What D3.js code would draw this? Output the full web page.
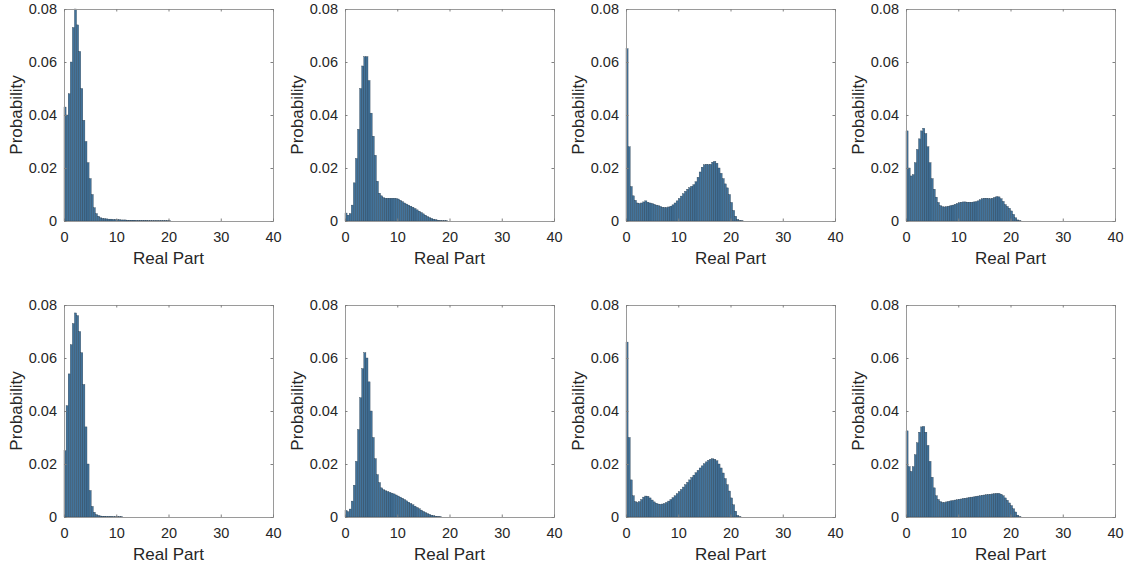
<!DOCTYPE html>
<html>
<head>
<meta charset="utf-8">
<script src="https://cdn.jsdelivr.net/npm/d3@7"></script>
<style>
body { margin: 0; background: #fff; }
text { font-family: "Liberation Sans", Arial, Helvetica, sans-serif; fill: #262626; }
</style>
</head>
<body>
<svg id="fig" width="1132" height="572"></svg>
<script>
// histogram bins start at 0, each binWidth wide
var binWidth = 0.4
var xTicks = [0, 10, 20, 30, 40]
var yTicks = [0, 0.02, 0.04, 0.06, 0.08]
var xTickText = ['0', '10', '20', '30', '40']
var yTickText = ['0', '0.02', '0.04', '0.06', '0.08']
var xLabel = 'Real Part'
var yLabel = 'Probability'

var top1 = [0.043, 0.040, 0.048, 0.060, 0.073, 0.080, 0.074, 0.064, 0.050, 0.038, 0.030, 0.022, 0.016, 0.010, 0.005,
  0.0028, 0.0018, 0.0012, 0.0010, 0.0009, 0.0008, 0.0007, 0.0007, 0.0006, 0.0006, 0.0005, 0.0005, 0.0004, 0.0004,
  0.0004, 0.0003, 0.0003, 0.0003, 0.0003, 0.0002, 0.0002, 0.0002, 0.0002, 0.0002, 0.0002, 0.0001, 0.0001, 0.0001,
  0.0001, 0.0001, 0.0001, 0.0001, 0.0001, 0.0001, 0.0001, 0.0001]
var top2 = [0.003, 0.0022, 0.0028, 0.006, 0.0144, 0.0236, 0.0346, 0.050, 0.0585, 0.062, 0.062, 0.053, 0.0407, 0.032,
  0.0248, 0.015, 0.0105, 0.0095, 0.0088, 0.0086, 0.0086, 0.0086, 0.0086, 0.0086, 0.0085, 0.0083, 0.0078, 0.0073,
  0.0068, 0.0064, 0.0060, 0.0056, 0.0052, 0.0047, 0.0042, 0.0037, 0.0032, 0.0027, 0.0022, 0.0017, 0.0013, 0.0010,
  0.0007, 0.0005, 0.0003, 0.0002, 0.0001, 0.0001, 0.0001]
var top3 = [0.065, 0.028, 0.013, 0.0095, 0.0078, 0.0068, 0.0066, 0.0068, 0.0072, 0.0076, 0.0071, 0.0068, 0.0066,
  0.0063, 0.0060, 0.0058, 0.0055, 0.0052, 0.0051, 0.0051, 0.0053, 0.0056, 0.0061, 0.0068, 0.0076, 0.0085, 0.0094,
  0.0103, 0.0112, 0.0120, 0.0126, 0.0131, 0.0137, 0.0148, 0.0165, 0.0185, 0.0203, 0.0212, 0.0214, 0.0213, 0.0214,
  0.0222, 0.0225, 0.0218, 0.0200, 0.0180, 0.0160, 0.0140, 0.0125, 0.0100, 0.0070, 0.0040, 0.0018, 0.0006, 0.0002,
  0.0001]
var top4 = [0.034, 0.020, 0.017, 0.0175, 0.022, 0.027, 0.031, 0.034, 0.035, 0.033, 0.028, 0.022, 0.016, 0.012, 0.009,
  0.007, 0.0058, 0.0054, 0.0053, 0.0054, 0.0056, 0.0058, 0.0060, 0.0063, 0.0066, 0.0069, 0.0071, 0.0072, 0.0072,
  0.0071, 0.0071, 0.0071, 0.0072, 0.0073, 0.0076, 0.0080, 0.0084, 0.0086, 0.0086, 0.0085, 0.0084, 0.0086, 0.0089,
  0.0092, 0.0091, 0.0084, 0.0074, 0.0062, 0.0055, 0.0048, 0.0038, 0.0025, 0.0012, 0.0004, 0.0001]
var bot1 = [0.025, 0.042, 0.054, 0.065, 0.073, 0.077, 0.076, 0.070, 0.062, 0.050, 0.034, 0.020, 0.010, 0.004, 0.0018,
  0.0009, 0.0006, 0.0004, 0.0003, 0.0003, 0.0002, 0.0002, 0.0002, 0.0001, 0.0001, 0.0001, 0.0001, 0.0001]
var bot2 = [0.0025, 0.002, 0.003, 0.006, 0.012, 0.021, 0.033, 0.045, 0.056, 0.062, 0.060, 0.051, 0.040, 0.030, 0.022,
  0.016, 0.013, 0.011, 0.0103, 0.0099, 0.0096, 0.0093, 0.0090, 0.0087, 0.0083, 0.0079, 0.0075, 0.0071, 0.0066,
  0.0061, 0.0056, 0.0051, 0.0046, 0.0041, 0.0036, 0.0031, 0.0026, 0.0021, 0.0017, 0.0013, 0.0010, 0.0007, 0.0005,
  0.0003, 0.0002, 0.0001]
var bot3 = [0.066, 0.030, 0.014, 0.008, 0.0058, 0.0055, 0.0058, 0.0066, 0.0075, 0.0079, 0.0078, 0.0072, 0.0064,
  0.0057, 0.0052, 0.0049, 0.0048, 0.0049, 0.0051, 0.0055, 0.0060, 0.0066, 0.0073, 0.0080, 0.0088, 0.0096, 0.0104,
  0.0113, 0.0122, 0.0131, 0.0140, 0.0149, 0.0158, 0.0167, 0.0176, 0.0185, 0.0193, 0.0201, 0.0208, 0.0214, 0.0218,
  0.0220, 0.0218, 0.0212, 0.0200, 0.0185, 0.0166, 0.0145, 0.0122, 0.0098, 0.0072, 0.0046, 0.0022, 0.0006, 0.0001]
var bot4 = [0.0325, 0.019, 0.0172, 0.019, 0.0235, 0.028, 0.032, 0.034, 0.0342, 0.032, 0.027, 0.021, 0.015, 0.011,
  0.008, 0.0066, 0.0058, 0.0055, 0.0055, 0.0057, 0.0059, 0.0061, 0.0062, 0.0064, 0.0065, 0.0067, 0.0068, 0.0070,
  0.0071, 0.0072, 0.0074, 0.0075, 0.0076, 0.0078, 0.0079, 0.0080, 0.0082, 0.0083, 0.0084, 0.0085, 0.0086, 0.0087,
  0.0088, 0.0089, 0.0089, 0.0086, 0.0080, 0.0072, 0.0063, 0.0053, 0.0043, 0.0031, 0.0019, 0.0007, 0.0001]

var panels = [top1, top2, top3, top4, bot1, bot2, bot3, bot4]

var colLeft = [64, 345, 626, 906]
var rowTop = [9, 305]
var w = 209, h = 212

var svg = d3.select('#fig')

var x = d3.scaleLinear().domain([0, 40]).range([0, w])
var y = d3.scaleLinear().domain([0, 0.08]).range([h, 0])

panels.forEach(function(vals, k) {
  var g = svg.append('g')
    .attr('transform', 'translate(' + colLeft[k % 4] + ',' + rowTop[Math.floor(k / 4)] + ')')

  g.selectAll('rect.bar')
    .data(vals)
    .enter().append('rect')
    .attr('class', 'bar')
    .attr('x', function(d, i) { return x(i * binWidth) })
    .attr('width', x(binWidth) - x(0))
    .attr('y', function(d) { return y(d) })
    .attr('height', function(d) { return h - y(d) })
    .attr('fill', '#42739b')
    .attr('stroke', '#27394a')
    .attr('stroke-width', 0.35)

  // box
  g.append('rect')
    .attr('x', 0.5).attr('y', 0.5).attr('width', w).attr('height', h)
    .attr('fill', 'none').attr('stroke', '#9a9a9a').attr('stroke-width', 1)

  var xa = g.append('g').attr('transform', 'translate(0,' + h + ')')
    .call(d3.axisBottom(x).tickValues(xTicks).tickFormat(function(d, i) { return xTickText[i] })
      .tickSize(-2.5).tickPadding(11))
  var xt = g.append('g')
    .call(d3.axisTop(x).tickValues(xTicks).tickFormat('').tickSize(-2.5))
  var ya = g.append('g')
    .call(d3.axisLeft(y).tickValues(yTicks).tickFormat(function(d, i) { return yTickText[i] })
      .tickSize(-2.5).tickPadding(7))
  var yr = g.append('g').attr('transform', 'translate(' + w + ',0)')
    .call(d3.axisRight(y).tickValues(yTicks).tickFormat('').tickSize(-2.5))

  ;[xa, xt, ya, yr].forEach(function(a) {
    a.select('.domain').remove()
    a.selectAll('line').attr('stroke', '#808080')
    a.selectAll('text').attr('font-size', 14.5).attr('fill', '#262626')
      .style('font-family', '"Liberation Sans", Arial, sans-serif')
  })

  g.append('text')
    .attr('x', w / 2).attr('y', h + 43)
    .attr('text-anchor', 'middle')
    .attr('font-size', 17)
    .text(xLabel)

  g.append('text')
    .attr('transform', 'translate(-42,' + (h / 2) + ') rotate(-90)')
    .attr('text-anchor', 'middle')
    .attr('font-size', 17)
    .text(yLabel)
})
</script>
</body>
</html>
